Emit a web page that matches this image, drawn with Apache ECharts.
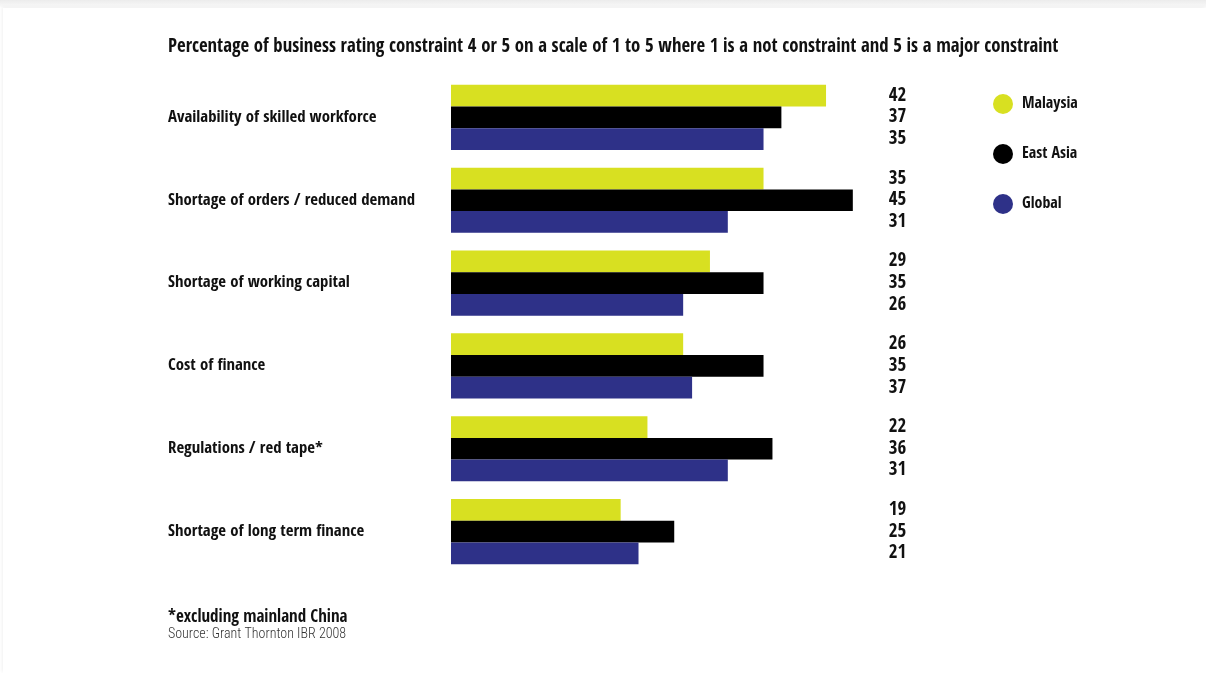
<!DOCTYPE html>
<html>
<head>
<meta charset="utf-8">
<script src="https://cdn.jsdelivr.net/npm/echarts@6/dist/echarts.min.js"></script>
<style>
html,body{margin:0;padding:0;background:#fff;}
#wrap{position:relative;width:1206px;height:673px;overflow:hidden;background:#fff;}
#shade{position:absolute;left:0;top:0;width:1206px;height:673px;background:linear-gradient(#ececec,#f7f7f7 6px,#fff 8px);}
#edge{position:absolute;left:3px;top:8px;width:1203px;height:665px;background:#fff;box-shadow:-1px -1px 3px rgba(0,0,0,0.06);}
#chart{position:absolute;left:0;top:0;width:1206px;height:673px;}
</style>
</head>
<body>
<div id="wrap"><div id="shade"></div><div id="edge"></div><div id="chart"></div></div>
<script>
const categories = ["Availability of skilled workforce","Shortage of orders / reduced demand","Shortage of working capital","Cost of finance","Regulations / red tape*","Shortage of long term finance"];
const seriesNames = ["Malaysia","East Asia","Global"];
const malaysia = [42,35,29,26,22,19];
const eastAsia = [37,45,35,35,36,25];
const globalV  = [35,31,26,27,31,21];
const malaysiaLabels = ["42","35","29","26","22","19"];
const eastAsiaLabels = ["37","45","35","35","36","25"];
const globalLabels   = ["35","31","26","37","31","21"];
const colors = ["#d8e021","#000000","#2e3188"];
const AXMAX = 51;
const FONT = "'Open Sans Condensed','Roboto Condensed',sans-serif";
const LIGHT = "'Roboto Condensed','Open Sans Condensed',sans-serif";

const chart = echarts.init(document.getElementById('chart'));
const vals = [malaysia, eastAsia, globalV];
const labs = [malaysiaLabels, eastAsiaLabels, globalLabels];
const series = [];
seriesNames.forEach((n,i)=>{
  series.push({name:n,type:'bar',stack:'s'+i,data:vals[i],barWidth:21.7,barGap:'0%',
    itemStyle:{color:colors[i]},silent:true});
});
seriesNames.forEach((n,i)=>{
  series.push({name:n+'_lab',type:'bar',stack:'s'+i,data:vals[i].map(v=>AXMAX-v),barWidth:21.7,
    itemStyle:{color:'rgba(0,0,0,0)'},silent:true,
    label:{show:true,position:'insideRight',distance:0,
      formatter:p=>labs[i][p.dataIndex],
      fontFamily:FONT,fontWeight:'bold',fontSize:19,color:'#111'}});
});

chart.setOption({
  animation:false,
  backgroundColor:'transparent',
  title:[{
    text:'Percentage of business rating constraint 4 or 5 on a scale of 1 to 5 where 1 is a not constraint and 5 is a major constraint',
    left:168, top:38, padding:0,
    textStyle:{fontFamily:FONT,fontWeight:'bold',fontSize:18.8,color:'#111'}
  },{
    text:'*excluding mainland China',
    subtext:'Source: Grant Thornton IBR 2008',
    left:168, top:609, itemGap:1, padding:0,
    textStyle:{fontFamily:FONT,fontWeight:'bold',fontSize:17,color:'#111'},
    subtextStyle:{fontFamily:LIGHT,fontWeight:300,fontSize:14,color:'#333'}
  }],
  legend:{
    data:seriesNames, orient:'vertical', left:988, top:89,
    icon:'circle', itemWidth:20, itemHeight:20, itemGap:30,
    textStyle:{fontFamily:FONT,fontWeight:'bold',fontSize:16,color:'#111',padding:[0,0,0,4]},
    selectedMode:false
  },
  grid:{left:451, top:76, width:455.4, height:497, containLabel:false},
  xAxis:{type:'value',min:0,max:AXMAX,show:false},
  yAxis:{type:'category',data:categories,inverse:true,
    axisLine:{show:false},axisTick:{show:false},
    axisLabel:{align:'left',margin:283,fontFamily:FONT,fontWeight:'bold',fontSize:16.8,color:'#111'}},
  series:series
});
</script>
</body>
</html>
